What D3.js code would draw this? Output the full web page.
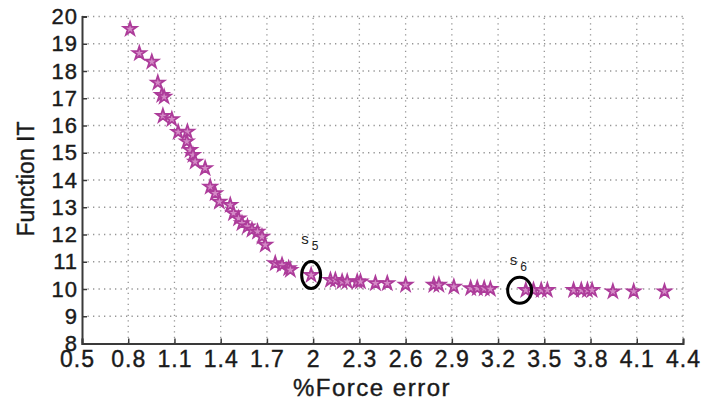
<!DOCTYPE html>
<html>
<head>
<meta charset="utf-8">
<script src="https://cdn.jsdelivr.net/npm/d3@7"></script>
<style>
  body { margin: 0; background: #fff; }
  svg { display: block; font-family: "Liberation Sans", Arial, sans-serif; }
</style>
</head>
<body>
<svg id="chart" width="702" height="401"></svg>
<script>
// data
const forceError = [0.812, 0.872, 0.953, 0.992, 1.018, 1.033, 1.025, 1.083, 1.124, 1.184,
  1.180, 1.202, 1.220, 1.234, 1.299, 1.332, 1.364, 1.392, 1.462, 1.483,
  1.516, 1.538, 1.574, 1.603, 1.639, 1.668, 1.689, 1.754, 1.798, 1.841,
  1.852, 1.987, 2.112, 2.144, 2.188, 2.221, 2.286, 2.307, 2.404, 2.481,
  2.600, 2.783, 2.816, 2.913, 3.022, 3.065, 3.110, 3.150, 3.380, 3.430,
  3.480, 3.520, 3.690, 3.740, 3.780, 3.810, 3.945, 4.080, 4.280];
const functionIT = [19.54, 18.65, 18.34, 17.57, 17.12, 17.05, 16.35, 16.23, 15.76, 15.77,
  15.41, 15.10, 14.92, 14.67, 14.43, 13.75, 13.51, 13.20, 13.08, 12.78,
  12.59, 12.41, 12.29, 12.17, 12.10, 11.92, 11.62, 10.94, 10.88, 10.76,
  10.70, 10.51, 10.33, 10.33, 10.27, 10.27, 10.27, 10.27, 10.21, 10.21,
  10.15, 10.15, 10.15, 10.08, 10.03, 10.03, 10.02, 10.00, 9.96, 9.96,
  9.96, 9.96, 9.96, 9.96, 9.96, 9.96, 9.91, 9.91, 9.91];

const xTicks = [0.5, 0.8, 1.1, 1.4, 1.7, 2, 2.3, 2.6, 2.9, 3.2, 3.5, 3.8, 4.1, 4.4];
const yTicks = [8, 9, 10, 11, 12, 13, 14, 15, 16, 17, 18, 19, 20];

// circled solutions
const markLabels = ['5', '6'];
const markX = [1.987, 3.34];
const markY = [10.51, 9.95];

const SVG = d3.select('#chart');
const LEFT = 82, RIGHT = 683, TOP = 16.5, BOTTOM = 343.5;

const xScale = d3.scaleLinear().domain([0.5, 4.4]).range([LEFT, RIGHT]);
const yScale = d3.scaleLinear().domain([8, 20]).range([BOTTOM, TOP]);

// dotted grid
const grid = SVG.append('g').attr('id', 'grid')
  .style('stroke', '#959595')
  .style('stroke-width', 1.3)
  .style('stroke-dasharray', '1.3,4.2');
grid.selectAll('line.v')
  .data(xTicks.slice(1))
  .join('line')
  .attr('x1', d => xScale(d)).attr('x2', d => xScale(d))
  .attr('y1', BOTTOM).attr('y2', TOP);
grid.selectAll('line.h')
  .data(yTicks.slice(1))
  .join('line')
  .attr('x1', LEFT).attr('x2', RIGHT)
  .attr('y1', d => yScale(d)).attr('y2', d => yScale(d));

// axes, ticks pointing inward
const xAxis = d3.axisBottom(xScale).tickValues(xTicks).tickFormat(d3.format('')).tickSize(-5).tickPadding(7);
const yAxis = d3.axisLeft(yScale).tickValues(yTicks).tickSize(-5).tickPadding(4);

const xg = SVG.append('g').attr('transform', `translate(0,${BOTTOM})`).call(xAxis);
const yg = SVG.append('g').attr('transform', `translate(${LEFT},0)`).call(yAxis);

[xg, yg].forEach(g => {
  g.select('.domain').attr('stroke', '#3a3a3a').attr('stroke-width', 2);
  g.selectAll('.tick line').attr('stroke', '#3a3a3a').attr('stroke-width', 1.5);
  g.selectAll('.tick text')
    .attr('fill', '#1a1a1a')
    .attr('stroke', '#1a1a1a')
    .attr('stroke-width', 0.4)
    .attr('letter-spacing', 1)
    .attr('font-family', '"Liberation Sans", Arial, sans-serif');
});
xg.selectAll('.tick text').attr('font-size', 23);
yg.selectAll('.tick text').attr('font-size', 22);
// the first x label sits a little left in the original
xg.selectAll('.tick text').filter(d => d === 0.5).attr('dx', -5);

// star markers
const star = d3.symbol().type(d3.symbolStar).size(54);
SVG.append('g')
  .attr('id', 'points')
  .selectAll('path')
  .data(forceError.map((x, i) => [x, functionIT[i]]))
  .join('path')
  .attr('transform', d => `translate(${xScale(d[0])},${yScale(d[1])})`)
  .attr('d', star)
  .style('fill', '#d48ac6')
  .style('stroke', '#ad3c9a')
  .style('stroke-width', 1.8);

// circled points and their labels
const marks = SVG.append('g').attr('id', 'marks');
markLabels.forEach((lab, i) => {
  const cx = xScale(markX[i]), cy = yScale(markY[i]);
  marks.append('ellipse')
    .attr('cx', cx).attr('cy', cy)
    .attr('rx', i === 0 ? 9.5 : 12).attr('ry', i === 0 ? 13.5 : 13)
    .style('fill', 'none')
    .style('stroke', '#000')
    .style('stroke-width', 3);
  const t = marks.append('text')
    .attr('x', cx - 10).attr('y', cy - (i === 0 ? 31 : 25))
    .attr('font-size', 15)
    .attr('fill', '#222')
    .text('s');
  t.append('tspan')
    .attr('dx', 3).attr('dy', 6)
    .attr('font-size', 12)
    .text(lab);
});

// axis titles
SVG.append('text')
  .attr('x', 372).attr('y', 396)
  .attr('text-anchor', 'middle')
  .attr('font-size', 24)
  .attr('letter-spacing', 1.5)
  .attr('fill', '#1a1a1a')
  .attr('stroke', '#1a1a1a')
  .attr('stroke-width', 0.4)
  .text('%Force error');

SVG.append('text')
  .attr('transform', 'translate(34,179) rotate(-90)')
  .attr('text-anchor', 'middle')
  .attr('font-size', 23)
  .attr('fill', '#1a1a1a')
  .attr('stroke', '#1a1a1a')
  .attr('stroke-width', 0.4)
  .text('Function IT');
</script>
</body>
</html>
